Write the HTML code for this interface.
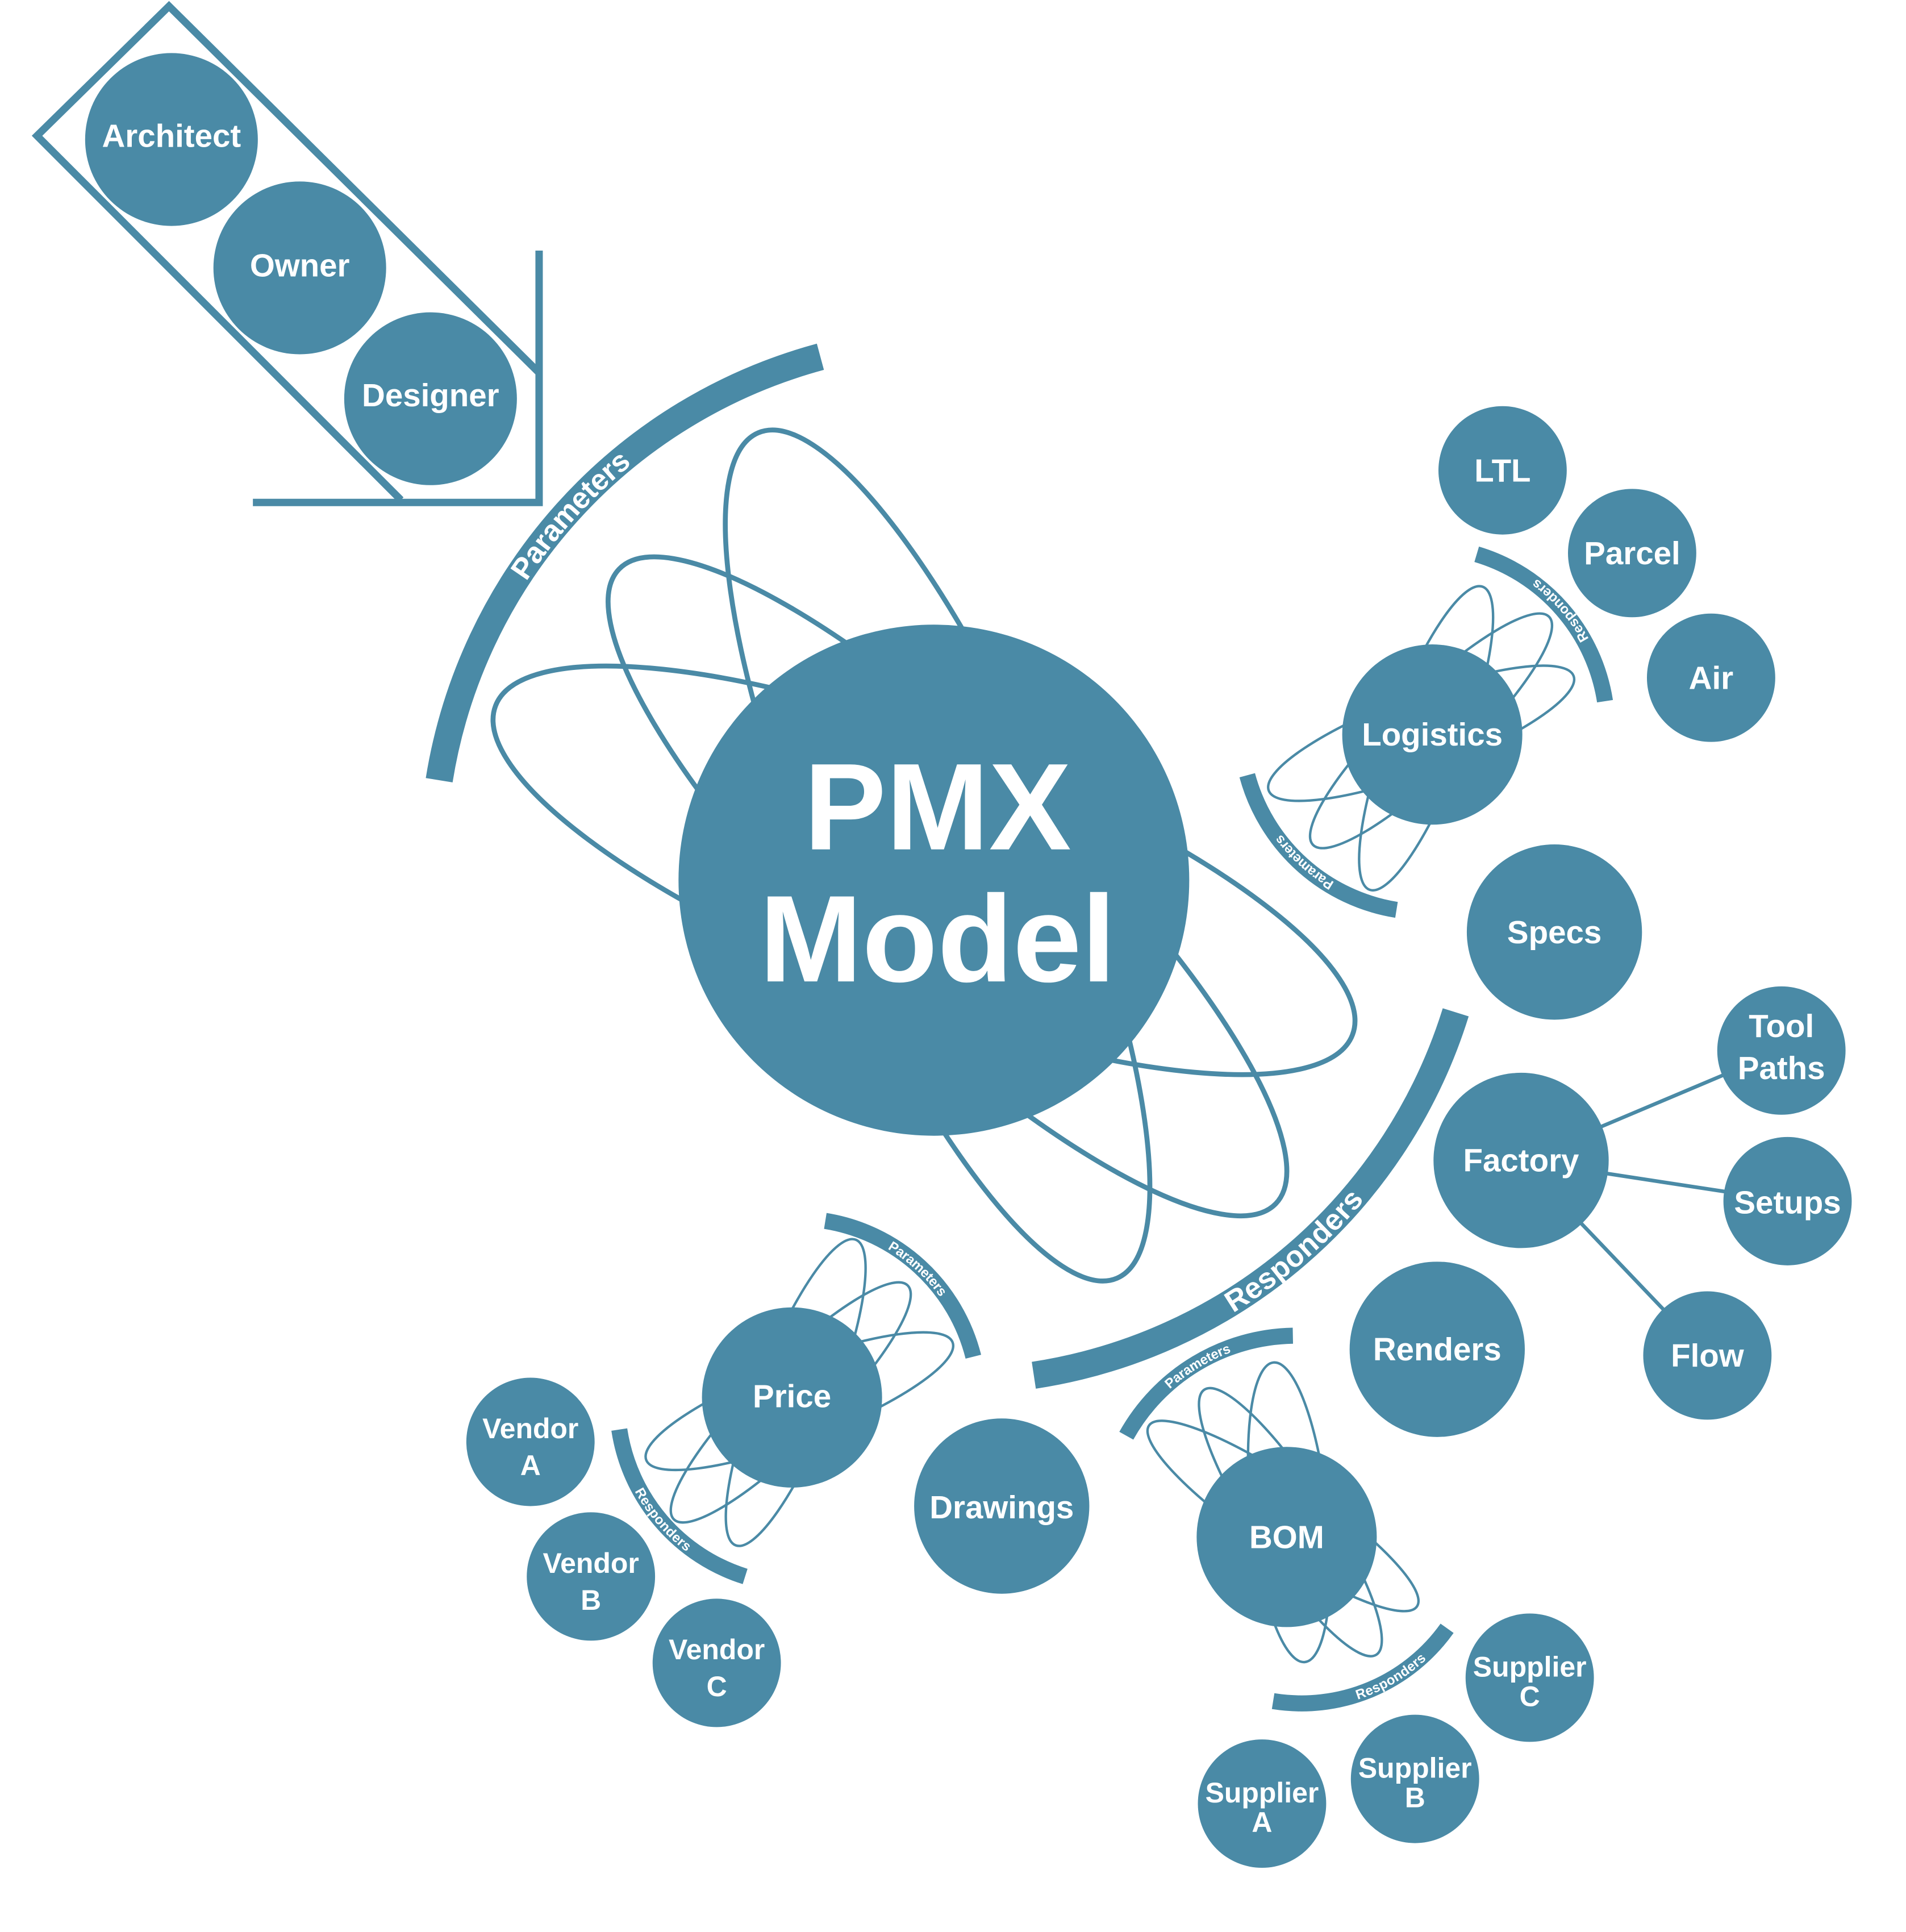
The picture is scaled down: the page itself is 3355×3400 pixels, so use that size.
<!DOCTYPE html>
<html><head><meta charset="utf-8"><style>
html,body{margin:0;padding:0;background:#fff}
svg{display:block}
text{font-family:"Liberation Sans",sans-serif;font-weight:bold;fill:#fff;text-anchor:middle}
</style></head><body>
<svg width="3355" height="3400" viewBox="0 0 1545 1565" preserveAspectRatio="none" xmlns="http://www.w3.org/2000/svg">
<defs>
<path id="pArc" d="M356,632 A425,425 0 0 1 665,289"/>
<path id="rArc" d="M838,1114 A425,425 0 0 0 1180,820"/>
<path id="a1" d="M1301,568 A148,148 0 0 0 1197,449"/>
<path id="a2" d="M1132,737 A150,150 0 0 1 1011,628"/>
<path id="a3" d="M669,989 A148,148 0 0 1 789,1099"/>
<path id="a4" d="M502,1158 A148,148 0 0 0 604,1277"/>
<path id="a5" d="M913,1163 A158,158 0 0 1 1048,1082"/>
<path id="a6" d="M1032,1378 A145,145 0 0 0 1173,1319"/>
</defs>
<g fill="none" stroke="#4a8aa6">
<polyline points="437,302 137,5 30,110 325,405" stroke-width="6"/>
<polyline points="437,203 437,407 205,407" stroke-width="6"/>
<use href="#pArc" stroke-width="22"/>
<use href="#rArc" stroke-width="22"/>
<ellipse cx="760" cy="693" rx="372" ry="100" transform="rotate(67 760 693)" stroke-width="4"/>
<ellipse cx="749" cy="705" rx="372" ry="105" transform="rotate(21 749 705)" stroke-width="4"/>
<ellipse cx="768" cy="718" rx="370" ry="100" transform="rotate(44 768 718)" stroke-width="4"/>
<g stroke-width="2">
<ellipse cx="1156" cy="598" rx="131" ry="31" transform="rotate(-69.5 1156 598)"/>
<ellipse cx="1160" cy="592" rx="133" ry="31" transform="rotate(-44 1160 592)"/>
<ellipse cx="1152" cy="594" rx="132" ry="31" transform="rotate(-20.6 1152 594)"/>
<ellipse cx="645" cy="1128" rx="133" ry="31" transform="rotate(-68.5 645 1128)"/>
<ellipse cx="641" cy="1136" rx="134" ry="31" transform="rotate(-45 641 1136)"/>
<ellipse cx="648" cy="1135" rx="133" ry="31" transform="rotate(-21 648 1135)"/>
<ellipse cx="1045" cy="1225" rx="122" ry="31" transform="rotate(84 1045 1225)"/>
<ellipse cx="1046" cy="1233" rx="128" ry="30" transform="rotate(57 1046 1233)"/>
<ellipse cx="1040" cy="1228" rx="131" ry="29" transform="rotate(34 1040 1228)"/>
</g>
<g stroke-width="13">
<use href="#a1"/><use href="#a2"/><use href="#a3"/><use href="#a4"/><use href="#a5"/><use href="#a6"/>
</g>
<g stroke-width="3">
<line x1="1233" y1="940" x2="1444" y2="851"/>
<line x1="1233" y1="940" x2="1449" y2="973"/>
<line x1="1233" y1="940" x2="1384" y2="1098"/>
</g>
</g>
<g fill="#4a8aa6">
<circle cx="757" cy="713" r="207"/>
<circle cx="139" cy="113" r="70"/>
<circle cx="243" cy="217" r="70"/>
<circle cx="349" cy="323" r="70"/>
<circle cx="1161" cy="595" r="73"/>
<circle cx="1218" cy="381" r="52"/>
<circle cx="1323" cy="448" r="52"/>
<circle cx="1387" cy="549" r="52"/>
<circle cx="1260" cy="755" r="71"/>
<circle cx="1233" cy="940" r="71"/>
<circle cx="1444" cy="851" r="52"/>
<circle cx="1449" cy="973" r="52"/>
<circle cx="1384" cy="1098" r="52"/>
<circle cx="1165" cy="1093" r="71"/>
<circle cx="812" cy="1220" r="71"/>
<circle cx="642" cy="1132" r="73"/>
<circle cx="430" cy="1168" r="52"/>
<circle cx="479" cy="1277" r="52"/>
<circle cx="581" cy="1347" r="52"/>
<circle cx="1043" cy="1245" r="73"/>
<circle cx="1240" cy="1359" r="52"/>
<circle cx="1147" cy="1441" r="52"/>
<circle cx="1023" cy="1461" r="52"/>
</g>
<text font-size="100" x="760" y="688">PMX</text>
<text font-size="100" x="760" y="795">Model</text>
<text font-size="26" x="139" y="119">Architect</text>
<text font-size="26" x="243" y="224">Owner</text>
<text font-size="26" x="349" y="329">Designer</text>
<text font-size="26" x="1161" y="604">Logistics</text>
<text font-size="26" x="1218" y="390">LTL</text>
<text font-size="26" x="1323" y="457">Parcel</text>
<text font-size="26" x="1387" y="558">Air</text>
<text font-size="26" x="1260" y="764">Specs</text>
<text font-size="26" x="1233" y="949">Factory</text>
<text font-size="26" x="1444" y="840">Tool</text>
<text font-size="26" x="1444" y="874">Paths</text>
<text font-size="26" x="1449" y="983">Setups</text>
<text font-size="26" x="1384" y="1107">Flow</text>
<text font-size="26" x="1165" y="1102">Renders</text>
<text font-size="26" x="812" y="1230">Drawings</text>
<text font-size="26" x="642" y="1140">Price</text>
<text font-size="23" x="430" y="1165">Vendor</text>
<text font-size="23" x="430" y="1195">A</text>
<text font-size="23" x="479" y="1274">Vendor</text>
<text font-size="23" x="479" y="1304">B</text>
<text font-size="23" x="581" y="1344">Vendor</text>
<text font-size="23" x="581" y="1374">C</text>
<text font-size="26" x="1043" y="1254">BOM</text>
<text font-size="23" x="1240" y="1358">Supplier</text>
<text font-size="23" x="1240" y="1382">C</text>
<text font-size="23" x="1147" y="1440">Supplier</text>
<text font-size="23" x="1147" y="1464">B</text>
<text font-size="23" x="1023" y="1460">Supplier</text>
<text font-size="23" x="1023" y="1484">A</text>
<text font-size="24"><textPath href="#pArc" startOffset="50%"><tspan dy="8">Parameters</tspan></textPath></text>
<text font-size="24"><textPath href="#rArc" startOffset="50%"><tspan dy="8">Responders</tspan></textPath></text>
<g font-size="11">
<text><textPath href="#a1" startOffset="50%"><tspan dy="4">Responders</tspan></textPath></text>
<text><textPath href="#a2" startOffset="50%"><tspan dy="4">Parameters</tspan></textPath></text>
<text><textPath href="#a3" startOffset="50%"><tspan dy="4">Parameters</tspan></textPath></text>
<text><textPath href="#a4" startOffset="50%"><tspan dy="4">Responders</tspan></textPath></text>
<text><textPath href="#a5" startOffset="50%"><tspan dy="4">Parameters</tspan></textPath></text>
<text><textPath href="#a6" startOffset="62%"><tspan dy="4">Responders</tspan></textPath></text>
</g>
</svg>
</body></html>
